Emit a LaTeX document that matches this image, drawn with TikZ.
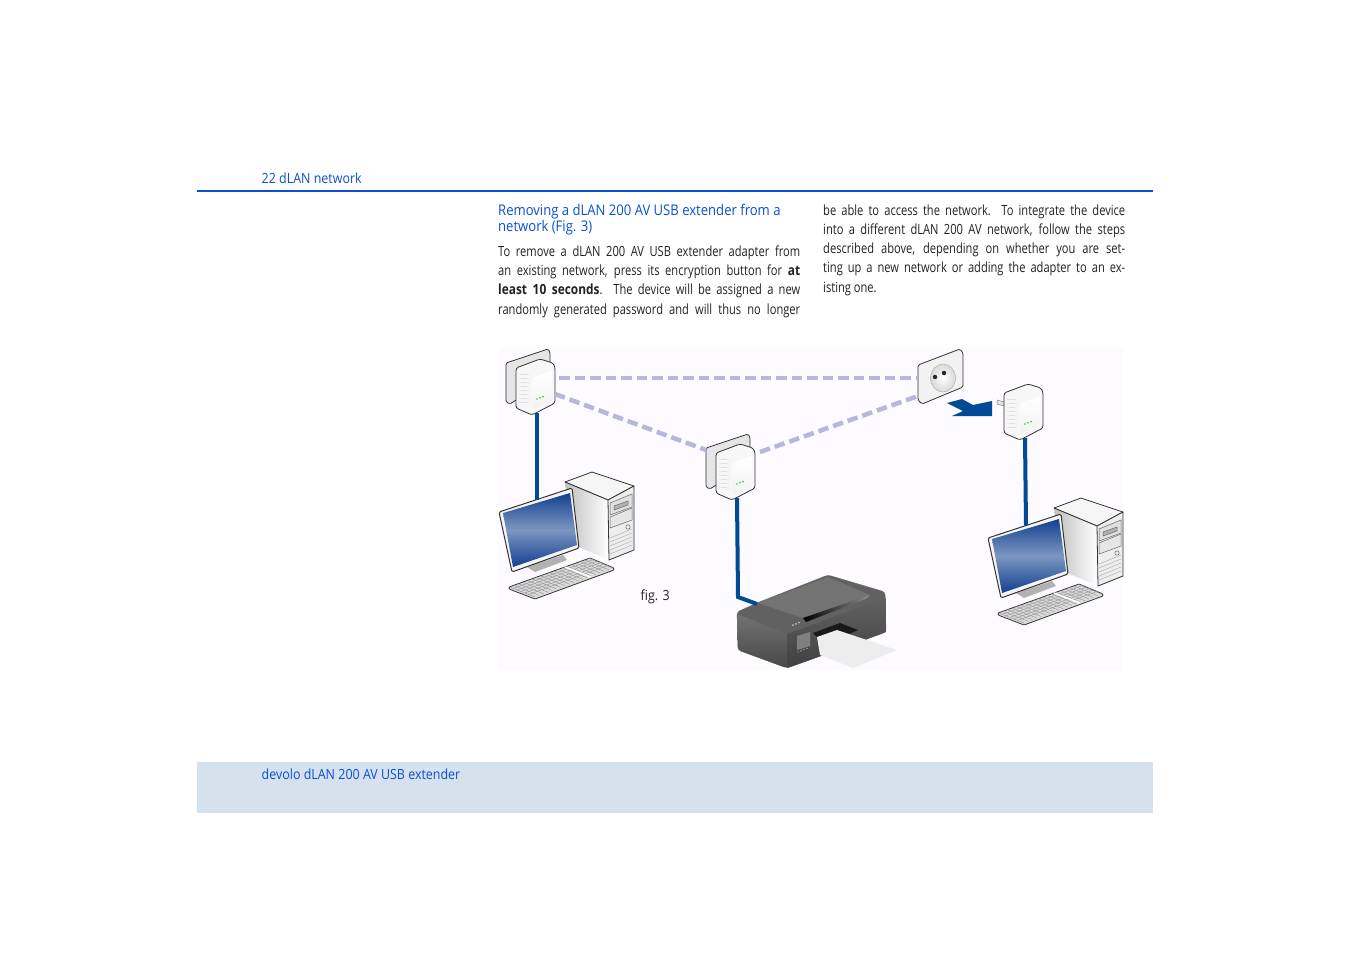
\documentclass[tikz,border=0pt]{standalone}
\usepackage{fontspec}
\setmainfont[FakeStretch=0.89]{Open Sans}
\newfontfamily\bodyfont[FakeStretch=0.795]{Open Sans}
\newfontfamily\bodybold[FakeStretch=0.85,UprightFont=* Bold]{Open Sans}
\definecolor{headblue}{HTML}{0B4FD8}
\definecolor{bandblue}{HTML}{D5E2EE}
\definecolor{cableblue}{HTML}{004A96}
\definecolor{screenblue}{HTML}{12408F}
\definecolor{dashblue}{HTML}{B5B7DD}
\definecolor{figback}{HTML}{FDFBFF}
\definecolor{bodygray}{HTML}{222222}
\tikzset{
  headtext/.style={anchor=base west,inner sep=0pt,text=headblue,font=\fontsize{14}{16}\selectfont},
  bodytext/.style={anchor=north west,inner sep=0pt,text=bodygray,text width=#1,align=justify,font=\bodyfont\fontsize{14}{19.2}\selectfont},
  cable/.style={cableblue,line width=4pt},
  powerline/.style={dashblue,line width=4.5pt,dash pattern=on 10.5pt off 5pt},
  edge/.style={draw=black!80,line width=0.8pt,line join=round},
  pics/platepic/.style={code={
    \filldraw[edge,fill=black!10,rounded corners=1.5pt] (-10,-5) -- (32,-19) -- (34,-16) -- (34,10) -- (-6,36) -- (-10,34) -- cycle;
  }},
  pics/adapterpic/.style={code={
    \filldraw[edge,fill=black!3,rounded corners=2.5pt] (0,0) -- (24,-9) -- (37,-5) -- (39,-1) -- (39,35) -- (16,47) -- (0,40) -- cycle;
    \foreach \v in {6,10,...,34} \draw[black!20,line width=0.4pt] (3,\v) -- (13,\v+1);
    \shade[top color=white,bottom color=black!5,rounded corners=2pt] (16,10) -- (36,3) -- (37,32) -- (17,41) -- cycle;
    \foreach \u in {0,3,6} \fill[green!60!black!70] (21+\u,31-\u*0.4) circle (0.9pt);
    \coordinate (-east) at (43,10);
    \coordinate (-lan) at (39,26);
    \coordinate (-west) at (-10,-3);
    \coordinate (-mid) at (44,-1);
    \coordinate (-bottom) at (21,45);
  }},
  pics/computerpic/.style={code={
    % Tower
    \filldraw[edge,fill=black!4] (66,-30) -- (93,-40) -- (135,-26) -- (109,-12) -- cycle;
    \shade[left color=black!25,right color=white] (66,-30) -- (109,-12) -- (110,48) -- (75,33) -- cycle;
    \filldraw[edge,fill=black!7] (109,-12) -- (135,-26) -- (135,38) -- (110,48) -- cycle;
    \draw[edge] (66,-30) -- (109,-12);
    \filldraw[draw=black!60,fill=black!12,line width=0.5pt] (111,-9) -- (133,-18) -- (133,-5) -- (111,3) -- cycle;
    \filldraw[draw=black!60,fill=black!30,line width=0.5pt] (115,-6) -- (129,-11) -- (129,-7) -- (115,-2) -- cycle;
    \filldraw[draw=black!60,fill=black!10,line width=0.5pt] (111,5) -- (133,-4) -- (133,8) -- (111,16) -- cycle;
    \draw[black!60,line width=0.5pt] (129,15) circle (2.2pt);
    \foreach \v in {0,4,8,12,16} \draw[black!30,line width=0.5pt] (111,26+\v) -- (133,17+\v);
    % Keyboard
    \filldraw[edge,fill=black!14,rounded corners=1pt] (10,75) -- (91,46) -- (115,56) -- (115,58) -- (36,87) -- (10,77) -- cycle;
    \foreach \t in {0,0.055,...,1.01} \draw[black!40,line width=0.5pt] (11+80*\t,75-29*\t) -- (36+79*\t,85-29*\t);
    \foreach \t in {0.15,0.3,...,0.9} \draw[black!40,line width=0.5pt] (10+26*\t,75+10*\t) -- (91+24*\t,46+10*\t);
    \draw[white,line width=1.6pt] (66,55) -- (92,65);
    % Monitor
    \fill[black!30] (28,55) -- (64,43) -- (68,48) -- (36,60) -- cycle;
    \filldraw[edge,line width=1pt,fill=black!4,rounded corners=1.5pt] (0,0) -- (73,-24) -- (80,36) -- (13,60) -- cycle;
    \shade[shading angle=-15,top color=screenblue,bottom color=screenblue,middle color=screenblue!55!white] (4,1) -- (71,-19) -- (78,33) -- (14,55) -- cycle;
    \coordinate (-top) at (38,-12.5);
  }}
}
\begin{document}
\begin{tikzpicture}[x=1pt,y=-1pt]
\useasboundingbox (0,0) rectangle (1351,954);
\fill[white] (0,0) rectangle (1351,954);

% Page furniture
\draw[headblue,line width=2pt] (197,190.5) -- (1153,190.5);
\fill[bandblue] (197,762) rectangle (1153,812.5);
\node[headtext] (pagehead) at (261.5,183) {22 dLAN network};
\node[headtext] (pagefoot) at (261.5,779) {devolo dLAN 200 AV USB extender};

% Text columns
\node[headtext,align=left,anchor=north west,font=\fontsize{14.7}{16}\selectfont] (title) at (498,204.5) {Removing a dLAN 200 AV USB extender from a\\network (Fig. 3)};
\node[bodytext=302pt] (leftcol) at (498,245.5) {To remove a dLAN 200 AV USB extender adapter from\linebreak an existing network, press its encryption button for {\bodybold at}\linebreak {\bodybold least 10 seconds}. The device will be assigned a new\linebreak randomly generated password and will thus no longer\linebreak};
\node[bodytext=302pt] (rightcol) at (823,204.5) {be able to access the network. To integrate the device\linebreak into a different dLAN 200 AV network, follow the steps\linebreak described above, depending on whether you are set-\linebreak ting up a new network or adding the adapter to an ex-\linebreak isting one.};

% Figure background
\fill[figback] (498,348) rectangle (1123,670);
\node[inner sep=0pt,anchor=base west,text=bodygray,font=\fontsize{14}{16}\selectfont] (figlabel) at (640.5,600) {fig. 3};

% Computers
\pic (pcA) at (499,512) {computerpic};
\pic (pcB) at (988,538) {computerpic};

% Printer
\filldraw[draw=black!60,fill=black!62,rounded corners=3pt] (737,612) -- (757,603) -- (828,575) -- (885,592) -- (886,632) -- (815,658) -- (787,668) -- (738,650) -- cycle;
\shade[top color=black!55,bottom color=black!72,rounded corners=3pt] (737,614) -- (787,634) -- (787,668) -- (738,650) -- cycle;
\shade[top color=black!62,bottom color=black!75] (787,634) -- (886,598) -- (886,632) -- (815,658) -- (787,668) -- cycle;
\fill[black!55] (758,603) -- (828,577) -- (870,595) -- (803,618) -- cycle;
\shade[left color=black,right color=black!45] (803,618) -- (870,595) -- (866,599) -- (806,622) -- cycle;
\fill[black!90] (813,633) -- (840,623) -- (858,630) -- (825,645) -- cycle;
\fill[black!50] (797,636) -- (810,632) -- (810,646) -- (797,650) -- cycle;
\foreach \b in {0,3,6} \fill[white!75!black] (793+\b,625-\b*0.4) circle (1pt);
\foreach \b in {0,3,6,9} \fill[black!30] (798+\b,652-\b*0.4) circle (0.7pt);
\fill[black!7] (817,637) -- (837,630) -- (897,650) -- (853,668) -- (820,655) -- cycle;
\coordinate (printerport) at (757,604);
\coordinate (printerbend) at (738,597);

% Socket
\filldraw[edge,fill=black!5,rounded corners=1.5pt] (918,365) -- (960,349) -- (963,353) -- (963,387) -- (922,404) -- (918,400) -- cycle;
\shade[inner color=white,outer color=black!15] (943,378) ellipse (12.5pt and 14pt);
\draw[black!30,line width=0.5pt] (943,378) ellipse (12.5pt and 14pt);
\fill[black!85] (935,377) circle (2.2pt);
\fill[black!85] (944,373) circle (2.2pt);
\coordinate (socketA) at (918,378);
\coordinate (socketB) at (918,396);

% Adapters
\pic at (516,368) {platepic};
\pic (adA) at (516,368) {adapterpic};
\pic at (716,453) {platepic};
\pic (adB) at (716,453) {adapterpic};
\filldraw[draw=black!50,fill=black!10,line width=0.5pt] (997,400) -- (1004,402) -- (1004,406) -- (997,404) -- cycle;
\pic (adC) at (1004,393) {adapterpic};

% Powerline links
\draw[powerline] (adA-east) -- (socketA);
\draw[powerline] (adA-lan) -- (adB-west);
\draw[powerline] (adB-mid) -- (socketB);

% Ethernet cables
\draw[cable] (adA-bottom) -- (pcA-top);
\draw[cable] (adC-bottom) -- (pcB-top);
\draw[cable] (adB-bottom) -- (printerbend) -- (printerport);

% Unplug arrow
\fill[cableblue] (947,403) -- (962,399) -- (973,405) -- (992,401) -- (992,416) -- (952,416) -- (963,411) -- cycle;
\end{tikzpicture}
\end{document}
